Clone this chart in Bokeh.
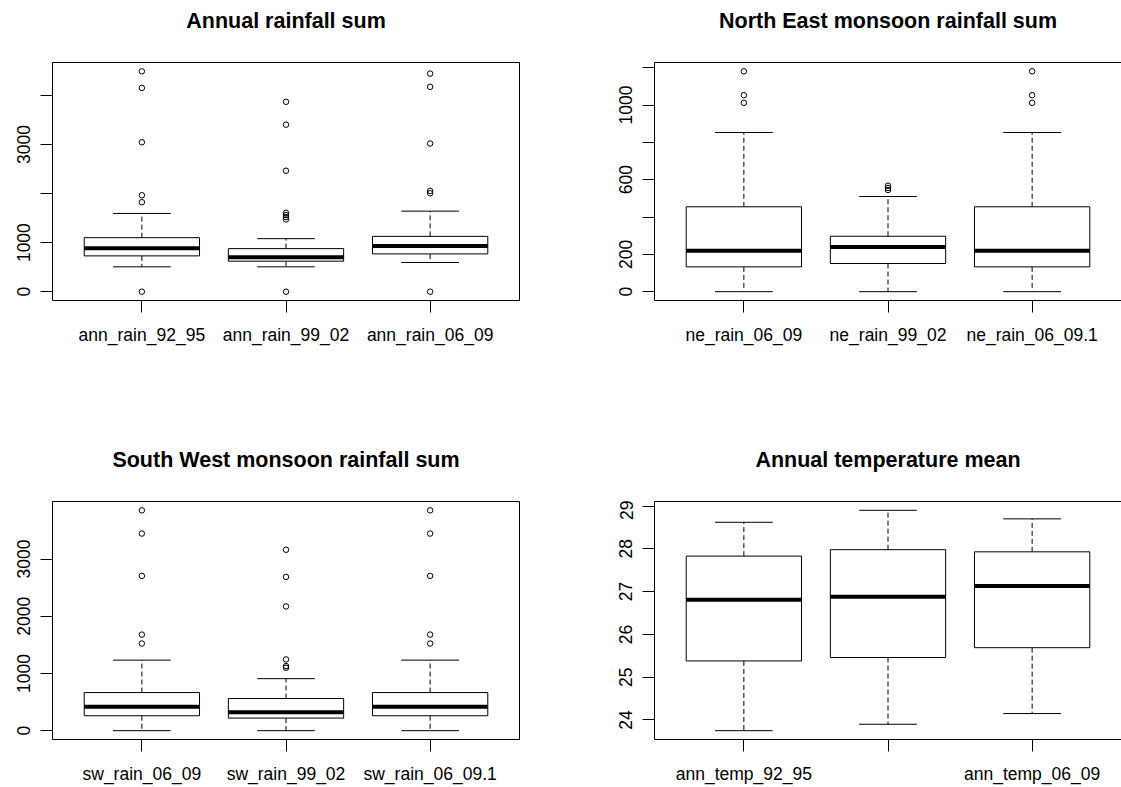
from bokeh.plotting import figure
from bokeh.layouts import gridplot
from bokeh.models import ColumnDataSource, FixedTicker, LinearAxis, Range1d
from bokeh.core.properties import value
from bokeh.embed import file_html
from bokeh.resources import INLINE

# ---------------- data ----------------
# Panel 1: Annual rainfall sum
ann_rain_labels = ["ann_rain_92_95", "ann_rain_99_02", "ann_rain_06_09"]
ann_rain_lower = [507, 507, 595]
ann_rain_q1 = [730, 622, 770]
ann_rain_median = [885, 703, 932]
ann_rain_q3 = [1101, 878, 1128]
ann_rain_upper = [1595, 1081, 1642]
ann_rain_outliers = [[0, 1824, 1966, 3047, 4155, 4493],
                     [0, 1473, 1520, 1561, 1608, 2466, 3405, 3872],
                     [0, 2007, 2054, 3020, 4176, 4446]]
ann_rain_yticks = [0, 1000, 2000, 3000, 4000]
ann_rain_ylabels = ["0", "1000", "", "3000", ""]

# Panel 2: North East monsoon rainfall sum
ne_rain_labels = ["ne_rain_06_09", "ne_rain_99_02", "ne_rain_06_09.1"]
ne_rain_lower = [0, 0, 0]
ne_rain_q1 = [133, 151, 133]
ne_rain_median = [220, 240, 220]
ne_rain_q3 = [455, 297, 455]
ne_rain_upper = [853, 510, 853]
ne_rain_outliers = [[1012, 1053, 1181], [545, 556, 568], [1012, 1053, 1181]]
ne_rain_yticks = [0, 200, 400, 600, 800, 1000, 1200]
ne_rain_ylabels = ["0", "200", "", "600", "", "1000", ""]

# Panel 3: South West monsoon rainfall sum
sw_rain_labels = ["sw_rain_06_09", "sw_rain_99_02", "sw_rain_06_09.1"]
sw_rain_lower = [0, 0, 0]
sw_rain_q1 = [261, 220, 261]
sw_rain_median = [417, 324, 417]
sw_rain_q3 = [666, 562, 666]
sw_rain_upper = [1233, 909, 1233]
sw_rain_outliers = [[1523, 1679, 2704, 3445, 3851],
                    [1100, 1129, 1245, 2171, 2687, 3162],
                    [1523, 1679, 2704, 3445, 3851]]
sw_rain_yticks = [0, 1000, 2000, 3000]
sw_rain_ylabels = ["0", "1000", "2000", "3000"]

# Panel 4: Annual temperature mean
ann_temp_labels = ["ann_temp_92_95", "", "ann_temp_06_09"]
ann_temp_lower = [23.75, 23.90, 24.15]
ann_temp_q1 = [25.38, 25.46, 25.69]
ann_temp_median = [26.81, 26.88, 27.13]
ann_temp_q3 = [27.83, 27.98, 27.93]
ann_temp_upper = [28.62, 28.90, 28.70]
ann_temp_outliers = [[], [], []]
ann_temp_yticks = [24, 25, 26, 27, 28, 29]
ann_temp_ylabels = ["24", "25", "26", "27", "28", "29"]

titles = ["Annual rainfall sum", "North East monsoon rainfall sum",
          "South West monsoon rainfall sum", "Annual temperature mean"]

FONT = "Liberation Sans"
TICK_FS = "17.5px"
TITLE_FS = "21.5px"
N_BOX = 3
X_LO, X_HI = 0.5 - 0.04 * N_BOX, N_BOX + 0.5 + 0.04 * N_BOX


def make_title(title, width, height, bl, br):
    t = figure(width=width, height=height, output_backend="svg", toolbar_location=None,
               x_range=Range1d(X_LO, X_HI), y_range=Range1d(0, height),
               x_axis_location=None, y_axis_location=None,
               min_border_left=bl, min_border_right=br, min_border_top=0, min_border_bottom=0,
               background_fill_color="white", border_fill_color="white")
    t.outline_line_color = None
    t.grid.grid_line_color = None
    t.text(x=[(N_BOX + 1) / 2], y=[41], text=[title], text_font=value(FONT),
           text_font_size=TITLE_FS, text_font_style="bold", text_color="black",
           text_align="center", text_baseline="alphabetic")
    return t


def make_panel(labels, lower, q1, med, q3, upper, outliers, yticks, ylabels,
               width, height, bl, br, bt, bb, outline=True):
    n = len(labels)
    xs = list(range(1, n + 1))
    allv = lower + upper + [v for o in outliers for v in o]
    lo, hi = min(allv), max(allv)
    pad = 0.04 * (hi - lo)

    p = figure(width=width, height=height, output_backend="svg", toolbar_location=None,
               x_range=Range1d(X_LO, X_HI), y_range=Range1d(lo - pad, hi + pad),
               min_border_left=bl, min_border_right=br, min_border_top=bt, min_border_bottom=bb,
               background_fill_color="white", border_fill_color="white")
    p.grid.grid_line_color = None

    src = ColumnDataSource(dict(
        x=xs, lower=lower, q1=q1, med=med, q3=q3, upper=upper,
        left=[x - 0.4 for x in xs], right=[x + 0.4 for x in xs],
        cl=[x - 0.2 for x in xs], cr=[x + 0.2 for x in xs]))

    p.segment(x0="x", y0="q3", x1="x", y1="upper", source=src, line_color="black",
              line_width=1, line_dash="5 3")
    p.segment(x0="x", y0="q1", x1="x", y1="lower", source=src, line_color="black",
              line_width=1, line_dash="5 3")
    p.segment(x0="cl", y0="upper", x1="cr", y1="upper", source=src, line_color="black", line_width=1)
    p.segment(x0="cl", y0="lower", x1="cr", y1="lower", source=src, line_color="black", line_width=1)
    p.quad(left="left", right="right", bottom="q1", top="q3", source=src,
           fill_color="white", line_color="black", line_width=1)
    p.segment(x0="left", y0="med", x1="right", y1="med", source=src, line_color="black",
              line_width=4)

    ox = [xs[i] for i, o in enumerate(outliers) for _ in o]
    oy = [v for o in outliers for v in o]
    if ox:
        p.scatter(ox, oy, marker="circle", size=5.5, fill_color=None, line_color="black",
                  line_width=1)

    # axes
    p.xaxis.ticker = FixedTicker(ticks=xs)
    p.xaxis.major_label_overrides = {x: lab for x, lab in zip(xs, labels)}
    p.yaxis.ticker = FixedTicker(ticks=yticks)
    p.yaxis.major_label_overrides = {t: lab for t, lab in zip(yticks, ylabels)}
    p.yaxis.major_label_orientation = "vertical"
    for ax in (p.xaxis[0], p.yaxis[0]):
        ax.major_tick_in = 0
        ax.major_tick_out = 12
        ax.major_tick_line_color = "black"
        ax.minor_tick_line_color = None
        ax.major_label_text_font = FONT
        ax.major_label_text_font_size = TICK_FS
        ax.major_label_text_color = "black"
    p.xaxis.major_label_standoff = 12
    p.yaxis.major_label_standoff = 10

    if outline:
        p.outline_line_color = "black"
        p.outline_line_width = 1
        p.xaxis.axis_line_color = None
        p.yaxis.axis_line_color = None
    else:
        # the right-hand border falls outside the picture: draw only left, bottom, top
        p.outline_line_color = None
        p.xaxis.axis_line_color = "black"
        p.yaxis.axis_line_color = "black"
        top = LinearAxis(ticker=FixedTicker(ticks=[]), major_label_text_font_size="0px",
                         major_tick_line_color=None, minor_tick_line_color=None,
                         major_tick_in=0, major_tick_out=0, minor_tick_in=0, minor_tick_out=0,
                         major_label_standoff=0, axis_line_color="black")
        p.add_layout(top, "above")
    return p


LW, RW = 560, 561
TT, TP = 61, 379     # top row: title strip, plot
BT, BP = 60, 287     # bottom row: title strip, plot

t1 = make_title(titles[0], LW, TT, 52, 41)
t2 = make_title(titles[1], RW, TT, 94, 0)
t3 = make_title(titles[2], LW, BT, 52, 41)
t4 = make_title(titles[3], RW, BT, 94, 0)

p1 = make_panel(ann_rain_labels, ann_rain_lower, ann_rain_q1,
                ann_rain_median, ann_rain_q3, ann_rain_upper, ann_rain_outliers,
                ann_rain_yticks, ann_rain_ylabels, LW, TP, 52, 41, 1, 140)
p2 = make_panel(ne_rain_labels, ne_rain_lower, ne_rain_q1,
                ne_rain_median, ne_rain_q3, ne_rain_upper, ne_rain_outliers,
                ne_rain_yticks, ne_rain_ylabels, RW, TP, 94, 0, 1, 140, outline=False)
p3 = make_panel(sw_rain_labels, sw_rain_lower, sw_rain_q1,
                sw_rain_median, sw_rain_q3, sw_rain_upper, sw_rain_outliers,
                sw_rain_yticks, sw_rain_ylabels, LW, BP, 52, 41, 1, 48)
p4 = make_panel(ann_temp_labels, ann_temp_lower, ann_temp_q1,
                ann_temp_median, ann_temp_q3, ann_temp_upper, ann_temp_outliers,
                ann_temp_yticks, ann_temp_ylabels, RW, BP, 94, 0, 1, 48, outline=False)

grid = gridplot([[t1, t2], [p1, p2], [t3, t4], [p3, p4]], toolbar_location=None)

open("out.html", "w").write(file_html(grid, INLINE))
